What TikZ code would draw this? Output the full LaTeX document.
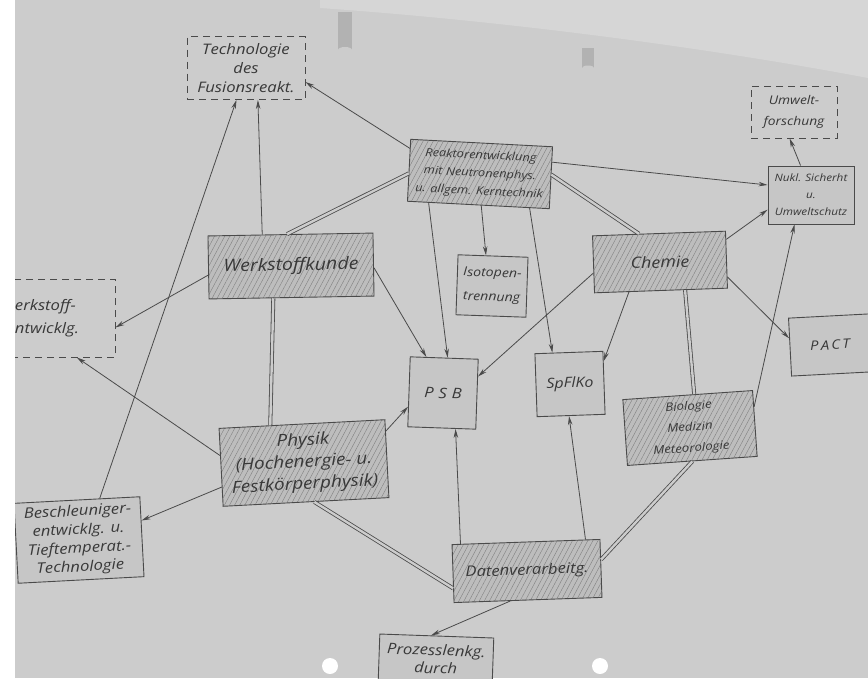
\documentclass[tikz,border=0pt]{standalone}
\usepackage{fontspec}
\setmainfont{Open Sans}[FakeStretch=1.15]
\usetikzlibrary{patterns.meta,arrows.meta,calc}
\definecolor{paper}{HTML}{CCCCCC}
\definecolor{paperlight}{HTML}{D6D6D6}
\definecolor{ink}{HTML}{4A4A4A}
\definecolor{txt}{HTML}{383838}
\definecolor{hatchfill}{HTML}{BDBDBD}
\definecolor{hatchline}{HTML}{808080}
\definecolor{plainfill}{HTML}{C6C6C6}
\newcommand{\hfs}[2]{\fontsize{#1}{#2}\selectfont\itshape}
\begin{document}
\begin{tikzpicture}[x=1pt,y=-1pt,
  box/.style={draw=ink, line width=0.9pt, align=center, text=txt, inner sep=1pt, fill=plainfill},
  hatchbox/.style={box, preaction={fill=hatchfill}, pattern={Lines[angle=62,distance=4.5pt,line width=0.4pt]}, pattern color=hatchline},
  dashbox/.style={box, fill=none, dash pattern=on 7pt off 5pt},
  dbl/.style={draw=ink, line width=0.8pt, double=paper, double distance=2.4pt},
  arr/.style={draw=ink, line width=0.8pt, -{Stealth[length=9pt,width=4.5pt]}}]
\useasboundingbox (0,0) rectangle (868,678);
\clip (0,0) rectangle (868,678);
% paper
\fill[paper] (0,0) rectangle (868,678);
\fill[paperlight] (320,0) -- (868,0) -- (868,78) .. controls (720,50) and (520,22) .. (320,8) -- cycle;
% pins and holes
\fill[gray!60] (338,12) rectangle (352,50);
\fill[gray!40] (345,50) ellipse (7pt and 3pt);
\fill[gray!60] (582,48) rectangle (594,68);
\fill[gray!40] (588,68) ellipse (6pt and 2.5pt);
\fill[white] (330,666) circle (8pt);
\fill[white] (600,666) circle (8pt);

% nodes
\node[dashbox, minimum width=118pt, minimum height=63pt, font={\hfs{14.5}{19}}] (tfus) at (246,68)
  {Technologie\\des\\Fusionsreakt.};
\node[hatchbox, minimum width=142pt, minimum height=62pt, rotate=-3, font={\hfs{11.2}{18}}] (reak) at (480,174)
  {Reaktorentwicklung\\mit Neutronenphys.\\u. allgem. Kerntechnik};
\node[dashbox, minimum width=86pt, minimum height=52pt, font={\hfs{12}{21}}] (umw) at (794,112)
  {Umwelt-\\forschung};
\node[box, minimum width=86pt, minimum height=58pt, font={\hfs{10.2}{17}}] (nukl) at (811,195)
  {Nukl. Sicherht\\u.\\Umweltschutz};
\node[hatchbox, minimum width=165pt, minimum height=63pt, rotate=1, font={\hfs{17}{20}}] (werk) at (291,266)
  {Werkstoffkunde};
\node[hatchbox, minimum width=133pt, minimum height=57pt, rotate=2, font={\hfs{15.5}{18}}] (chem) at (660,262)
  {Chemie};
\node[box, minimum width=70pt, minimum height=60pt, rotate=-2, font={\hfs{12.3}{24}}] (iso) at (492,286)
  {Isotopen-\\trennung};
\node[dashbox, minimum width=128pt, minimum height=78pt, align=left, text width=80pt, inner xsep=24pt, font={\hfs{14.5}{23}}] (wentw) at (51,318)
  {\hspace*{4pt}erkstoff-\\\hspace*{4pt}ntwicklg.};
\node[box, minimum width=80pt, minimum height=58pt, rotate=3, font={\hfs{13}{15}}] (pact) at (830,345)
  {P\,A\,C\,T};
\node[box, minimum width=68pt, minimum height=70pt, rotate=-2, font={\hfs{14.5}{17}}] (psb) at (443,393)
  {P\,\,S\,\,B};
\node[box, minimum width=68pt, minimum height=63pt, rotate=2, font={\hfs{14}{16}}] (spf) at (570,384)
  {SpFlKo};
\node[hatchbox, minimum width=130pt, minimum height=66pt, rotate=4, font={\hfs{11.5}{21}}] (bio) at (690,428)
  {Biologie\\Medizin\\Meteorologie};
\node[hatchbox, minimum width=166pt, minimum height=78pt, rotate=3, font={\hfs{16.5}{22}}] (phys) at (304,463)
  {Physik\\(Hochenergie- u.\\Festkörperphysik)};
\node[box, minimum width=126pt, minimum height=80pt, rotate=3, font={\hfs{14.5}{18.5}}] (besch) at (79,540)
  {Beschleuniger-\\entwicklg. u.\\Tieftemperat.-\\Technologie};
\node[hatchbox, minimum width=148pt, minimum height=58pt, rotate=2, font={\hfs{14.5}{17}}] (daten) at (527,571)
  {Datenverarbeitg.};
\node[box, minimum width=114pt, minimum height=46pt, rotate=-2, font={\hfs{14.5}{18}}] (proz) at (436,659)
  {Prozesslenkg.\\durch};

% double ring
\draw[dbl] ($(reak.north west)!0.55!(reak.south west)$) -- ($(werk.north west)!0.48!(werk.north east)$);
\draw[dbl] ($(reak.north east)!0.45!(reak.south east)$) -- ($(chem.north west)!0.35!(chem.north east)$);
\draw[dbl] ($(werk.south west)!0.39!(werk.south east)$) -- ($(phys.north west)!0.31!(phys.north east)$);
\draw[dbl] ($(chem.south west)!0.68!(chem.south east)$) -- ($(bio.north west)!0.55!(bio.north east)$);
\draw[dbl] ($(phys.south west)!0.55!(phys.south east)$) -- ($(daten.north west)!0.75!(daten.south west)$);
\draw[dbl] ($(bio.south west)!0.5!(bio.south east)$) -- ($(daten.north east)!0.35!(daten.south east)$);

% arrows
\draw[arr] ($(reak.north west)!0.15!(reak.south west)$) -- ($(tfus.north east)!0.72!(tfus.south east)$);
\draw[arr] ($(werk.north west)!0.33!(werk.north east)$) -- ($(tfus.south west)!0.6!(tfus.south east)$);
\draw[arr] ($(besch.north west)!0.68!(besch.north east)$) -- ($(tfus.south west)!0.42!(tfus.south east)$);
\draw[arr] ($(reak.north east)!0.25!(reak.south east)$) -- ($(nukl.north west)!0.33!(nukl.south west)$);
\draw[arr] ($(chem.north east)!0.15!(chem.south east)$) -- ($(nukl.north west)!0.75!(nukl.south west)$);
\draw[arr] ($(bio.north east)!0.25!(bio.south east)$) -- ($(nukl.south west)!0.31!(nukl.south east)$);
\draw[arr] ($(nukl.north west)!0.38!(nukl.north east)$) -- ($(umw.south west)!0.45!(umw.south east)$);
\draw[arr] ($(chem.north east)!0.8!(chem.south east)$) -- ($(pact.north west)!0.35!(pact.south west)$);
\draw[arr] ($(reak.south west)!0.15!(reak.south east)$) -- ($(psb.north west)!0.55!(psb.north east)$);
\draw[arr] ($(reak.south west)!0.52!(reak.south east)$) -- ($(iso.north west)!0.4!(iso.north east)$);
\draw[arr] ($(reak.south west)!0.86!(reak.south east)$) -- ($(spf.north west)!0.26!(spf.north east)$);
\draw[arr] ($(werk.north east)!0.55!(werk.south east)$) -- ($(psb.north west)!0.24!(psb.north east)$);
\draw[arr] ($(chem.north west)!0.65!(chem.south west)$) -- ($(psb.north east)!0.25!(psb.south east)$);
\draw[arr] ($(chem.south west)!0.26!(chem.south east)$) -- ($(spf.north east)!0.16!(spf.south east)$);
\draw[arr] ($(werk.north west)!0.62!(werk.south west)$) -- ($(wentw.north east)!0.62!(wentw.south east)$);
\draw[arr] ($(phys.north west)!0.35!(phys.south west)$) -- ($(wentw.south west)!0.7!(wentw.south east)$);
\draw[arr] ($(phys.north west)!0.75!(phys.south west)$) -- ($(besch.north east)!0.3!(besch.south east)$);
\draw[arr] ($(phys.north east)!0.15!(phys.south east)$) -- ($(psb.north west)!0.71!(psb.south west)$);
\draw[arr] ($(daten.north west)!0.06!(daten.north east)$) -- ($(psb.south west)!0.7!(psb.south east)$);
\draw[arr] ($(daten.north west)!0.9!(daten.north east)$) -- ($(spf.south west)!0.47!(spf.south east)$);
\draw[arr] ($(daten.south west)!0.38!(daten.south east)$) -- ($(proz.north west)!0.45!(proz.north east)$);

% white strip at the left edge of the photo
\fill[white] (0,0) rectangle (15,678);
\end{tikzpicture}
\end{document}
